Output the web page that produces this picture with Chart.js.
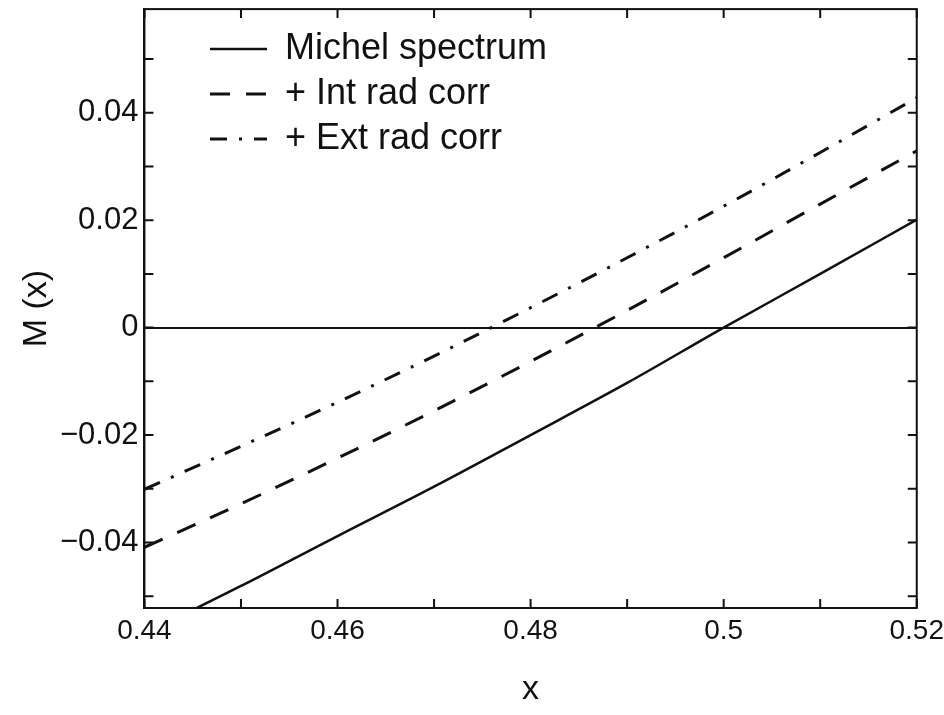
<!DOCTYPE html>
<html>
<head>
<meta charset="utf-8">
<script src="https://cdn.jsdelivr.net/npm/chart.js@4.4.1/dist/chart.umd.min.js"></script>
<style>
  html, body { margin: 0; padding: 0; background: #fff; }
</style>
</head>
<body>
<canvas id="chart" width="944" height="715"></canvas>
<script>
// values at every 0.01 in x
const xValues = [0.44, 0.45, 0.46, 0.47, 0.48, 0.49, 0.50, 0.51, 0.52];
const michel = [-0.0570, -0.0481, -0.0388, -0.0296, -0.0200, -0.0103, 0.0000, 0.0100, 0.0201];
const intRadCorr = [-0.0409, -0.0328, -0.0243, -0.0155, -0.0063, 0.0032, 0.0130, 0.0230, 0.0329];
const extRadCorr = [-0.0301, -0.0221, -0.0139, -0.0053, 0.0037, 0.0130, 0.0226, 0.0326, 0.0428];
const seriesLabels = ['Michel spectrum', '+ Int rad corr', '+ Ext rad corr'];

// tick marks on the frame, and the ones that carry a label
const xTicks = [0.44, 0.45, 0.46, 0.47, 0.48, 0.49, 0.50, 0.51, 0.52];
const yTicks = [-0.05, -0.04, -0.03, -0.02, -0.01, 0, 0.01, 0.02, 0.03, 0.04, 0.05];
const xLabelTicks = [0.44, 0.46, 0.48, 0.50, 0.52];
const yLabelTicks = [-0.04, -0.02, 0, 0.02, 0.04];

const FONT = "'Liberation Sans', Arial, Helvetica, sans-serif";
const INK = '#111';

function pts(ys) {
  return xValues.map((x, i) => ({ x: x, y: ys[i] }));
}

function fmt(v) {
  if (Math.abs(v) < 1e-9) return '0';
  const s = String(+v.toFixed(3));
  return v < 0 ? '\u2212' + s.slice(1) : s;
}

// frame on all four sides plus inward tick marks, placed with the chart's scales
const frameTicks = {
  id: 'frameTicks',
  afterLayout(chart) {
    // legend sits inside the frame, upper left
    const lg = chart.legend;
    const w = lg.width, h = lg.height;
    lg.left = 201; lg.top = 22;
    lg.right = lg.left + w; lg.bottom = lg.top + h;
  },
  afterDraw(chart) {
    const ctx = chart.ctx;
    const a = chart.chartArea;
    const xs = chart.scales.x;
    const ys = chart.scales.y;
    const len = 9;
    ctx.save();
    ctx.strokeStyle = INK;
    ctx.lineWidth = 2;
    ctx.strokeRect(a.left, a.top, a.right - a.left, a.bottom - a.top);
    ctx.beginPath();
    xTicks.forEach(v => {
      const px = xs.getPixelForValue(v);
      ctx.moveTo(px, a.bottom); ctx.lineTo(px, a.bottom - len);
      ctx.moveTo(px, a.top); ctx.lineTo(px, a.top + len);
    });
    yTicks.forEach(v => {
      const py = ys.getPixelForValue(v);
      ctx.moveTo(a.left, py); ctx.lineTo(a.left + len, py);
      ctx.moveTo(a.right, py); ctx.lineTo(a.right - len, py);
    });
    ctx.stroke();
    ctx.restore();
  }
};

new Chart(document.getElementById('chart').getContext('2d'), {
  type: 'line',
  data: {
    datasets: [
      {
        label: seriesLabels[0],
        data: pts(michel),
        borderColor: INK,
        borderWidth: 2.5,
        pointRadius: 0,
        cubicInterpolationMode: 'monotone'
      },
      {
        label: seriesLabels[1],
        data: pts(intRadCorr),
        borderColor: INK,
        borderWidth: 3,
        borderDash: [20, 16],
        pointRadius: 0,
        cubicInterpolationMode: 'monotone'
      },
      {
        label: seriesLabels[2],
        data: pts(extRadCorr),
        borderColor: INK,
        borderWidth: 3,
        borderDash: [17, 12, 3, 12],
        pointRadius: 0,
        cubicInterpolationMode: 'monotone'
      }
    ]
  },
  options: {
    responsive: false,
    animation: false,
    devicePixelRatio: 1,
    layout: { padding: { left: 0, right: 0, top: 9, bottom: 3 } },
    plugins: {
      tooltip: { enabled: false },
      legend: {
        position: 'chartArea',
        align: 'start',
        labels: {
          usePointStyle: true,
          pointStyle: 'line',
          pointStyleWidth: 57,
          color: INK,
          padding: 9,
          font: { family: FONT, size: 36 },
          generateLabels: chart => {
            const items = Chart.defaults.plugins.legend.labels.generateLabels(chart);
            items.forEach(it => {
              const ds = chart.data.datasets[it.datasetIndex];
              it.lineDash = ds.borderDash || [];
              it.lineWidth = ds.borderWidth;
              it.strokeStyle = INK;
            });
            return items;
          }
        }
      }
    },
    scales: {
      x: {
        type: 'linear',
        min: 0.44,
        max: 0.52,
        border: { display: true, color: INK, width: 2 },
        grid: { display: false, drawTicks: false },
        afterBuildTicks: s => { s.ticks = xLabelTicks.map(v => ({ value: v })); },
        ticks: {
          color: INK,
          padding: 0,
          maxRotation: 0,
          autoSkip: false,
          font: { family: FONT, size: 28, lineHeight: 1.65 },
          callback: v => fmt(v)
        },
        title: {
          display: true,
          text: 'x',
          color: INK,
          padding: { top: 15, bottom: 2 },
          font: { family: FONT, size: 34 }
        }
      },
      y: {
        type: 'linear',
        min: -0.0522,
        max: 0.0593,
        border: { display: true, color: INK, width: 2 },
        grid: {
          drawTicks: false,
          lineWidth: 2,
          color: c => (c.tick && Math.abs(c.tick.value) < 1e-9) ? INK : 'rgba(0,0,0,0)'
        },
        afterBuildTicks: s => { s.ticks = yLabelTicks.map(v => ({ value: v })); },
        ticks: {
          color: INK,
          padding: 6,
          autoSkip: false,
          font: { family: FONT, size: 31, lineHeight: 0.2 },
          callback: v => fmt(v)
        },
        title: {
          display: true,
          text: 'M (x)',
          color: INK,
          padding: { top: 20, bottom: 0 },
          font: { family: FONT, size: 34, lineHeight: 1.0 }
        }
      }
    }
  },
  plugins: [frameTicks]
});
</script>
</body>
</html>
